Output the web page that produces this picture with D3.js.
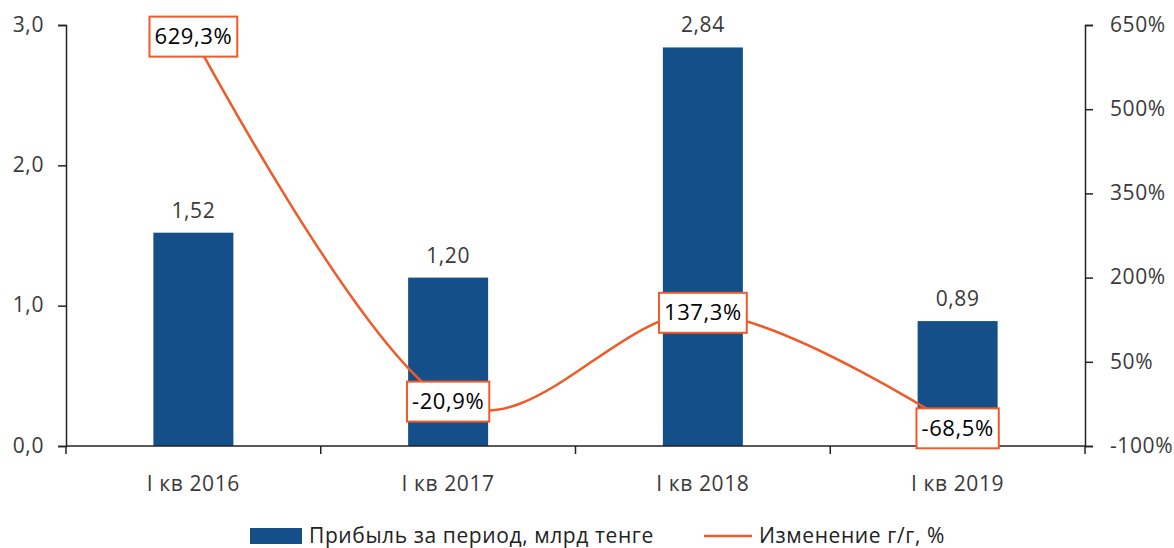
<!DOCTYPE html>
<html>
<head>
<meta charset="utf-8">
<script src="https://cdn.jsdelivr.net/npm/d3@7"></script>
<style>
  body { margin: 0; background: #fff; }
  svg text { font-family: "Open Sans", "Noto Sans", sans-serif; letter-spacing: 0.6px; }
</style>
</head>
<body>
<div class="canvas"></div>
<script>
// data
const categories = ['I кв 2016', 'I кв 2017', 'I кв 2018', 'I кв 2019'];
const profit = [1.52, 1.20, 2.84, 0.89];
const change = [629.3, -20.9, 137.3, -68.5];
const leftTicks = [0, 1, 2, 3];
const rightTicks = [-100, 50, 200, 350, 500, 650];
const legendNames = ['Прибыль за период, млрд тенге', 'Изменение г/г, %'];

const barColor = '#154f8a';
const lineColor = '#ef5a28';

const dims = {width: 1174, height: 548};
const m = {left: 66, right: 89, top: 25, bottom: 102};

const svg = d3.select('.canvas')
  .append('svg')
  .attr('width', dims.width)
  .attr('height', dims.height);

const x = d3.scaleBand()
  .domain(categories)
  .range([m.left, dims.width - m.right]);

const yL = d3.scaleLinear().domain([0, 3]).range([dims.height - m.bottom, m.top]);
const yR = d3.scaleLinear().domain([-100, 650]).range([dims.height - m.bottom, m.top]);

const fmt = (v, d) => v.toFixed(d).replace('.', ',');

// bars
svg.append('g').selectAll('rect')
  .data(profit)
  .enter().append('rect')
  .attr('x', (d, i) => x(categories[i]) + x.bandwidth() / 2 - 40)
  .attr('width', 80)
  .attr('y', d => yL(d))
  .attr('height', d => yL(0) - yL(d))
  .attr('fill', barColor);

// bar labels
svg.append('g').selectAll('text')
  .data(profit)
  .enter().append('text')
  .attr('x', (d, i) => x(categories[i]) + x.bandwidth() / 2)
  .attr('y', d => yL(d) - 15)
  .attr('text-anchor', 'middle')
  .attr('font-size', 21)
  .attr('fill', '#3a3a3a')
  .text(d => fmt(d, 2));

// axes
const axisStyle = g => {
  g.select('.domain').attr('stroke', '#222').attr('stroke-width', 1.5);
  g.selectAll('.tick line').attr('stroke', '#222').attr('stroke-width', 1.5);
  g.selectAll('.tick text').attr('font-size', 21).attr('fill', '#3a3a3a');
};

svg.append('g')
  .attr('transform', `translate(${m.left},0)`)
  .call(d3.axisLeft(yL).tickValues(leftTicks).tickSize(8).tickSizeOuter(8).tickPadding(14).tickFormat(d => fmt(d, 1)))
  .call(axisStyle)
  .call(g => g.selectAll('.tick text').attr('dy', '0.3em'));

svg.append('g')
  .attr('transform', `translate(${dims.width - m.right},0)`)
  .call(d3.axisRight(yR).tickValues(rightTicks).tickSize(8).tickSizeOuter(8).tickPadding(17).tickFormat(d => d + '%'))
  .call(axisStyle)
  .call(g => g.selectAll('.tick text').attr('dy', '0.3em'));

// bottom axis with ticks between categories
const xAxis = svg.append('g')
  .attr('transform', `translate(0,${yL(0)})`);
xAxis.append('line')
  .attr('x1', m.left).attr('x2', dims.width - m.right)
  .attr('stroke', '#222').attr('stroke-width', 1.5);
xAxis.selectAll('.sep')
  .data(categories.concat(['end']))
  .enter().append('line')
  .attr('x1', (d, i) => i < categories.length ? x(d) : x(categories[i - 1]) + x.bandwidth())
  .attr('x2', (d, i) => i < categories.length ? x(d) : x(categories[i - 1]) + x.bandwidth())
  .attr('y1', 0).attr('y2', 8)
  .attr('stroke', '#222').attr('stroke-width', 1.5);
xAxis.selectAll('text')
  .data(categories)
  .enter().append('text')
  .attr('x', d => x(d) + x.bandwidth() / 2)
  .attr('y', 45)
  .attr('text-anchor', 'middle')
  .attr('font-size', 21)
  .attr('fill', '#3a3a3a')
  .text(d => d);

// line
const linePath = d3.line()
  .x((d, i) => x(categories[i]) + x.bandwidth() / 2)
  .y(d => yR(d))
  .curve(d3.curveCardinal.tension(0));

svg.append('path')
  .datum(change)
  .attr('d', linePath)
  .attr('fill', 'none')
  .attr('stroke', lineColor)
  .attr('stroke-width', 2.5);

// line labels in boxes
const lbl = svg.append('g').selectAll('g')
  .data(change)
  .enter().append('g')
  .attr('transform', (d, i) => `translate(${x(categories[i]) + x.bandwidth() / 2},${yR(d)})`);

lbl.append('text')
  .attr('text-anchor', 'middle')
  .attr('dy', '0.35em')
  .attr('font-size', 22)
  .attr('fill', '#000')
  .text(d => fmt(d, 1) + '%');

lbl.each(function() {
  const g = d3.select(this);
  const bb = g.select('text').node().getBBox();
  g.insert('rect', 'text')
    .attr('x', bb.x - 5).attr('y', -20)
    .attr('width', bb.width + 10).attr('height', 40)
    .attr('fill', '#fff')
    .attr('stroke', lineColor)
    .attr('stroke-width', 2);
});

// legend
const legend = svg.append('g').attr('transform', `translate(0,536)`);
legend.append('rect')
  .attr('x', 250).attr('y', -8).attr('width', 52).attr('height', 16)
  .attr('fill', barColor);
legend.append('text')
  .attr('x', 309).attr('dy', '0.35em')
  .attr('font-size', 21).attr('fill', '#222')
  .text(legendNames[0]);
legend.append('line')
  .attr('x1', 704).attr('x2', 752)
  .attr('stroke', lineColor).attr('stroke-width', 2.5);
legend.append('text')
  .attr('x', 759).attr('dy', '0.35em')
  .attr('font-size', 21).attr('fill', '#222')
  .text(legendNames[1]);
</script>
</body>
</html>
